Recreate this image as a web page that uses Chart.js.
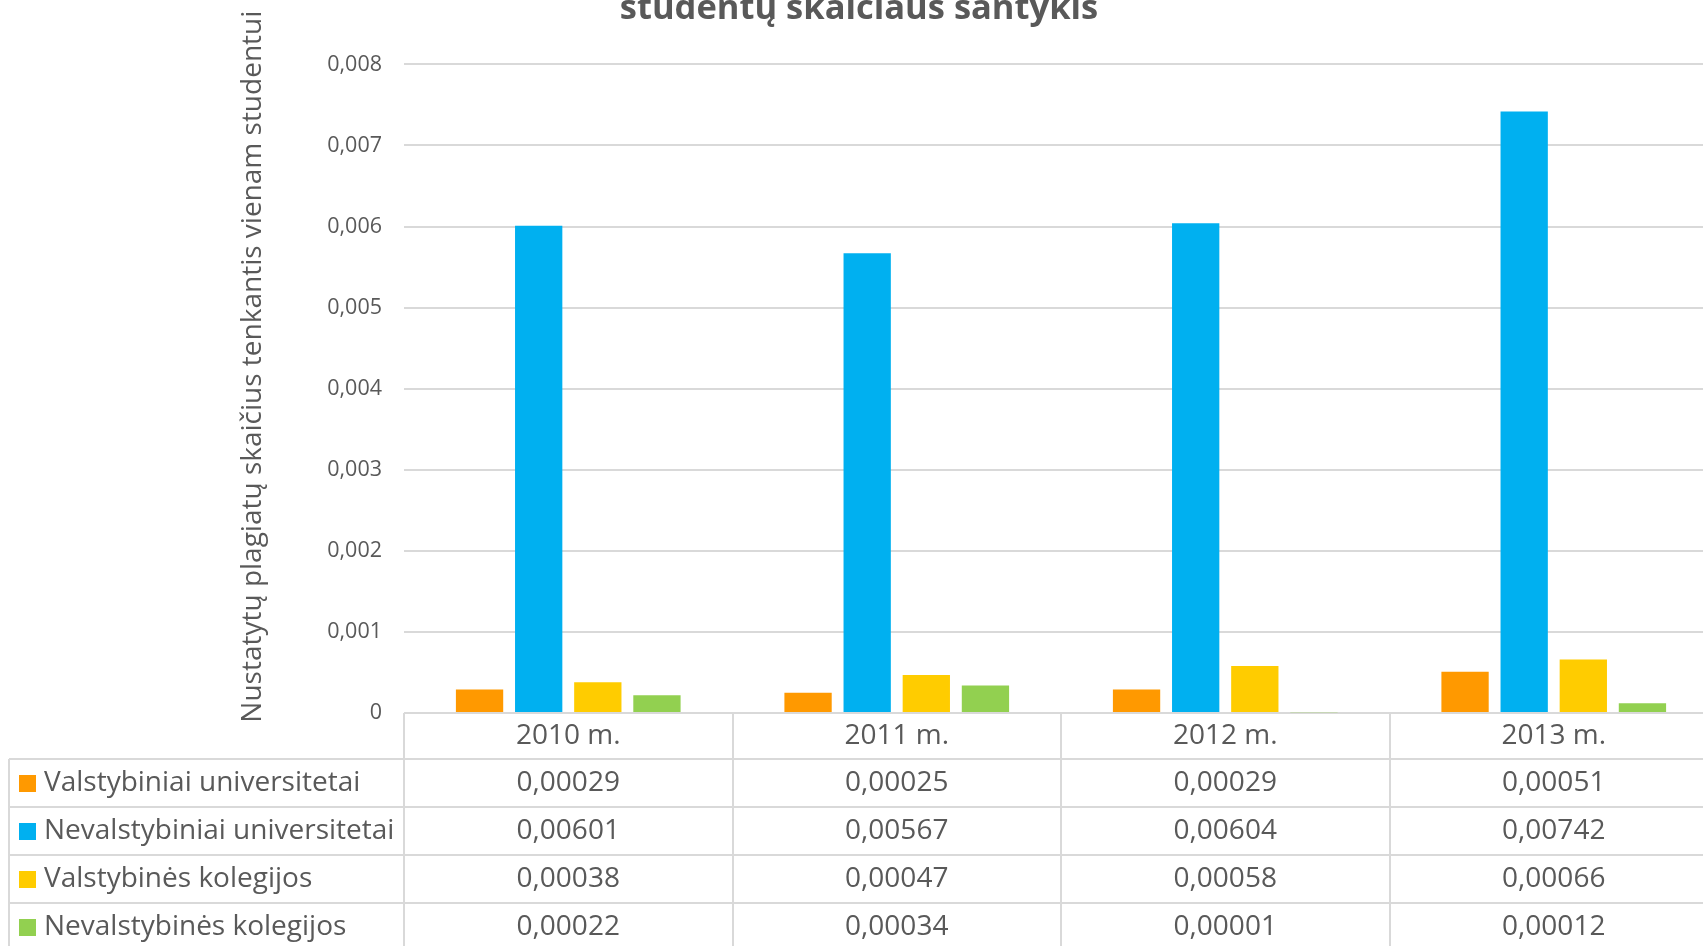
<!DOCTYPE html>
<html>
<head>
<meta charset="utf-8">
<script src="https://cdn.jsdelivr.net/npm/chart.js@4"></script>
<style>
    html, body { margin: 0; padding: 0; background: #fff; overflow: hidden; }
    #wrap { position: relative; width: 1703px; height: 946px; overflow: hidden; }
    #chart { position: absolute; left: 0; top: -28px; }
</style>
</head>
<body>
<div id="wrap"><canvas id="chart" width="1718" height="990"></canvas></div>
<script>
const years = ["2010 m.", "2011 m.", "2012 m.", "2013 m."];
const seriesNames = [
    "Valstybiniai universitetai",
    "Nevalstybiniai universitetai",
    "Valstybinės kolegijos",
    "Nevalstybinės kolegijos",
];
const valstybiniaiUniv = [0.00029, 0.00025, 0.00029, 0.00051];
const nevalstybiniaiUniv = [0.00601, 0.00567, 0.00604, 0.00742];
const valstybinesKoleg = [0.00038, 0.00047, 0.00058, 0.00066];
const nevalstybinesKoleg = [0.00022, 0.00034, 0.00001, 0.00012];
const yTicks = [0, 0.001, 0.002, 0.003, 0.004, 0.005, 0.006, 0.007, 0.008];
const yTitle = "Nustatytų plagiatų skaičius tenkantis vienam studentui";

const colors = ["#FF9900", "#00B0F0", "#FFCC00", "#92D050"];
const textColor = "#595959";
const lineColor = "#D9D9D9";
const seriesValues = [valstybiniaiUniv, nevalstybiniaiUniv, valstybinesKoleg, nevalstybinesKoleg];

Chart.defaults.font.family = "'Open Sans', sans-serif";
Chart.defaults.color = textColor;

const fmt = (v, digits) => (v === 0 ? "0" : v.toFixed(digits).replace(".", ","));

// data table under the plot, columns follow the category scale
const dataTable = {
    id: "dataTable",
    afterDraw(chart) {
        const { ctx, chartArea } = chart;
        const x = chart.scales.x;
        const colW = x.width / years.length;
        const headH = 46;
        const rowH = 48;
        const top = chartArea.bottom;
        const bodyTop = top + headH;
        const bottom = bodyTop + rowH * seriesNames.length;
        const legendLeft = 9;

        ctx.save();
        ctx.strokeStyle = lineColor;
        ctx.lineWidth = 2;
        ctx.beginPath();
        for (let i = 0; i <= years.length; i++) {
            const cx = Math.round(chartArea.left + colW * i);
            ctx.moveTo(cx, top);
            ctx.lineTo(cx, bottom);
        }
        ctx.moveTo(legendLeft, bodyTop);
        ctx.lineTo(legendLeft, bottom);
        for (let r = 0; r <= seriesNames.length; r++) {
            const ry = Math.round(bodyTop + rowH * r);
            ctx.moveTo(legendLeft, ry);
            ctx.lineTo(chartArea.right, ry);
        }
        ctx.stroke();

        ctx.fillStyle = textColor;
        ctx.font = "28px 'Open Sans', sans-serif";
        ctx.textBaseline = "middle";
        ctx.textAlign = "center";
        years.forEach((year, i) => {
            ctx.fillText(year, x.getPixelForValue(i), top + headH / 2);
        });

        seriesNames.forEach((name, s) => {
            const cy = bodyTop + rowH * (s + 0.5);
            ctx.fillStyle = colors[s];
            ctx.fillRect(19, cy - 8, 17, 17);
            ctx.fillStyle = textColor;
            ctx.textAlign = "left";
            ctx.fillText(name, 44, cy);
            ctx.textAlign = "center";
            seriesValues[s].forEach((v, i) => {
                ctx.fillText(fmt(v, 5), x.getPixelForValue(i), cy);
            });
        });

        // value axis title, sits a little above the plot centre like the original
        ctx.translate(253, (chartArea.top + chartArea.bottom) / 2 - 22);
        ctx.rotate(-Math.PI / 2);
        ctx.font = "28px 'Open Sans', sans-serif";
        ctx.fillText(yTitle, 0, 0);
        ctx.restore();
    },
};

new Chart(document.getElementById("chart"), {
    type: "bar",
    data: {
        labels: years,
        datasets: seriesNames.map((name, s) => ({
            label: name,
            data: seriesValues[s],
            backgroundColor: colors[s],
            categoryPercentage: 0.72,
            barPercentage: 0.8,
        })),
    },
    options: {
        responsive: false,
        animation: false,
        layout: {
            padding: { left: 0, right: 0, top: 0, bottom: 249 },
        },
        plugins: {
            legend: { display: false },
            tooltip: { enabled: false },
            title: {
                display: true,
                text: "studentų skaičiaus santykis",
                color: textColor,
                font: { size: 34.5, weight: "bold" },
                padding: { top: 16, bottom: 35 },
            },
        },
        scales: {
            x: {
                ticks: { display: false },
                grid: { display: false, drawTicks: false },
                border: { display: false },
            },
            y: {
                min: 0,
                max: 0.008,
                afterFit(scale) {
                    scale.width = 404;
                },
                afterBuildTicks(scale) {
                    scale.ticks = yTicks.map((value) => ({ value }));
                },
                ticks: {
                    padding: 22,
                    font: { size: 21.5 },
                    color: textColor,
                    callback: (value) => fmt(value, 3),
                },
                grid: { color: lineColor, lineWidth: 2, drawTicks: false },
                border: { display: false },
            },
        },
    },
    plugins: [dataTable],
});
</script>
</body>
</html>
